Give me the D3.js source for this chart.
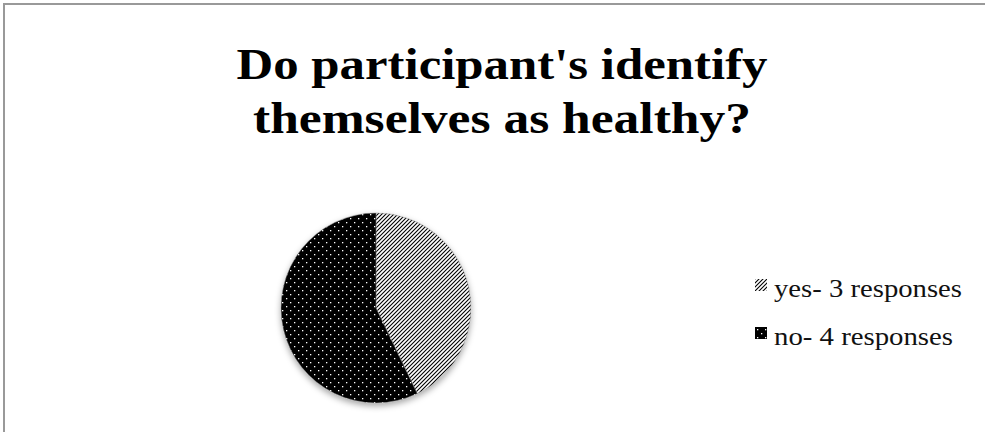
<!DOCTYPE html>
<html>
<head>
<meta charset="utf-8">
<script src="https://cdn.jsdelivr.net/npm/d3@7/dist/d3.min.js"></script>
<style>
  html, body { margin: 0; padding: 0; background: #fff; }
  svg { display: block; }
</style>
</head>
<body>
<svg id="chart" width="985" height="432"></svg>
<script>
// Survey answers
const categories = ["yes", "no"];
const responses = [3, 4];
const legendLabels = ["yes- 3 responses", "no- 4 responses"];
const titleLines = ["Do participant's identify", "themselves as healthy?"];

const svg = d3.select("#chart");
const W = 985, H = 432;

// Frame
svg.append("rect")
  .attr("x", 4).attr("y", 4)
  .attr("width", W + 10).attr("height", H + 10)
  .attr("fill", "#fff")
  .attr("stroke", "#999").attr("stroke-width", 2);

const defs = svg.append("defs");

// Diagonal hatching for "yes"
const hatch = defs.append("pattern")
  .attr("id", "hatch")
  .attr("patternUnits", "userSpaceOnUse")
  .attr("width", 4).attr("height", 4);
hatch.append("rect").attr("width", 4).attr("height", 4).attr("fill", "#fff");
hatch.append("path")
  .attr("d", "M-1,1 l2,-2 M0,4 l4,-4 M3,5 l2,-2")
  .attr("stroke", "#000").attr("stroke-width", 1.1);

// White dots on black for "no"
const dots = defs.append("pattern")
  .attr("id", "dots")
  .attr("patternUnits", "userSpaceOnUse")
  .attr("width", 8).attr("height", 8);
dots.append("rect").attr("width", 8).attr("height", 8).attr("fill", "#000");
dots.append("rect").attr("x", 2).attr("y", 2).attr("width", 1.3).attr("height", 1.3).attr("fill", "#fff");
dots.append("rect").attr("x", 6).attr("y", 6).attr("width", 1.3).attr("height", 1.3).attr("fill", "#fff");

// Soft shadow under the pie
const shadow = defs.append("filter")
  .attr("id", "shadow")
  .attr("x", "-20%").attr("y", "-20%")
  .attr("width", "140%").attr("height", "140%");
shadow.append("feDropShadow")
  .attr("dx", 0).attr("dy", 3)
  .attr("stdDeviation", 3)
  .attr("flood-color", "#000").attr("flood-opacity", 0.35);

const fill = d3.scaleOrdinal().domain(categories).range(["url(#hatch)", "url(#dots)"]);

// Title
const title = svg.append("g");
const titleWidths = [531, 498];
title.selectAll("text")
  .data(titleLines)
  .join("text")
  .attr("x", 502)
  .attr("y", (d, i) => 79 + i * 54)
  .attr("text-anchor", "middle")
  .attr("font-family", "'Liberation Serif', 'DejaVu Serif', serif")
  .attr("font-weight", "bold")
  .attr("font-size", 44)
  .attr("textLength", (d, i) => titleWidths[i])
  .attr("lengthAdjust", "spacingAndGlyphs")
  .attr("fill", "#000")
  .text(d => d);

// Pie
const cx = 376, cy = 308, r = 95;
const pie = d3.pie().sort(null).value(d => d.value);
const arc = d3.arc().innerRadius(0).outerRadius(r);
const data = categories.map((c, i) => ({ key: c, value: responses[i] }));

const pieG = svg.append("g")
  .attr("transform", `translate(${cx},${cy})`)
  .attr("filter", "url(#shadow)");
pieG.selectAll("path")
  .data(pie(data))
  .join("path")
  .attr("d", arc)
  .attr("fill", d => fill(d.data.key))
  .attr("stroke", "#888")
  .attr("stroke-width", 0.5);

// Legend
const legend = svg.append("g");
const legendWidths = [188, 179];
const items = legend.selectAll("g")
  .data(categories)
  .join("g")
  .attr("transform", (d, i) => `translate(755,${279 + i * 48})`);
items.append("rect")
  .attr("width", 12).attr("height", 12)
  .attr("fill", d => fill(d));
items.append("text")
  .attr("x", 19)
  .attr("y", 18)
  .attr("font-family", "'Liberation Serif', 'DejaVu Serif', serif")
  .attr("font-size", 25)
  .attr("textLength", (d, i) => legendWidths[i])
  .attr("lengthAdjust", "spacingAndGlyphs")
  .attr("fill", "#111")
  .text((d, i) => legendLabels[i]);
</script>
</body>
</html>
